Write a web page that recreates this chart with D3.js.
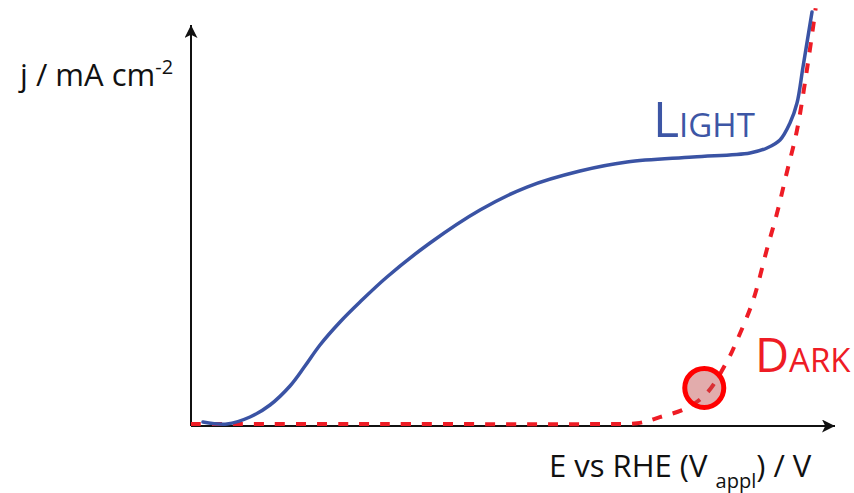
<!DOCTYPE html>
<html>
<head>
<meta charset="utf-8">
<script src="https://cdn.jsdelivr.net/npm/d3@7"></script>
<style>
  body { margin: 0; background: #fff; }
  svg { display: block; }
  text { font-family: 'Open Sans', sans-serif; }
</style>
</head>
<body>
<svg id="chart" width="854" height="493"></svg>
<script>
// potential (arbitrary units, 0-100) and current density (arbitrary, 0-100)
const lightE = [1.86, 5.59, 9.16, 12.27, 15.37, 17.70, 20.03, 23.14, 26.24, 30.43, 37.11, 44.88, 52.17, 60.40, 67.70, 77.95, 86.80, 89.44, 91.46, 93.01, 94.10, 95.03, 96.43]
const lightJ = [1.0, 0.5, 2.24, 5.24, 9.98, 14.96, 20.20, 25.94, 30.92, 37.16, 45.64, 53.87, 59.60, 63.59, 65.84, 67.08, 68.08, 69.33, 71.32, 75.56, 80.55, 89.53, 103.24]

const darkE = [0, 30, 63.5, 69.3, 72.8, 77.0, 80.1, 83.2, 84.8, 87.3, 89.4, 91.0, 92.5, 94.1, 95.7, 97.0]
const darkJ = [0.5, 0.5, 0.5, 0.7, 2.2, 4.5, 8.2, 16.0, 21.4, 31.4, 43.9, 53.1, 63.1, 73.8, 89.5, 104.2]

const onsetPoint = [79.7, 9.5]

const svg = d3.select('#chart')

const x = d3.scaleLinear().domain([0, 100]).range([191, 835])
const y = d3.scaleLinear().domain([0, 100]).range([426, 25])

const defs = svg.append('defs')
defs.append('marker')
  .attr('id', 'arrow')
  .attr('viewBox', '0 0 10 10')
  .attr('refX', 10)
  .attr('refY', 5)
  .attr('markerWidth', 16)
  .attr('markerHeight', 13)
  .attr('markerUnits', 'userSpaceOnUse')
  .attr('orient', 'auto')
  .append('path')
  .attr('d', 'M0,0 L10,5 L0,10 L2.5,5 Z')
  .attr('fill', '#111')

// axes
svg.append('line')
  .attr('x1', x(0)).attr('y1', y(0))
  .attr('x2', x(100)).attr('y2', y(0))
  .attr('stroke', '#111').attr('stroke-width', 2)
  .attr('marker-end', 'url(#arrow)')
svg.append('line')
  .attr('x1', x(0)).attr('y1', y(0))
  .attr('x2', x(0)).attr('y2', y(100))
  .attr('stroke', '#111').attr('stroke-width', 2)
  .attr('marker-end', 'url(#arrow)')

const line = d3.line()
  .x((d) => x(d[0]))
  .y((d) => y(d[1]))
  .curve(d3.curveCatmullRom.alpha(0.5))

svg.append('path')
  .datum(darkE.map((e, i) => [e, darkJ[i]]))
  .attr('d', line)
  .attr('fill', 'none')
  .attr('stroke', '#ee1c25')
  .attr('stroke-width', 4)
  .attr('stroke-dasharray', '10 11')

svg.append('path')
  .datum(lightE.map((e, i) => [e, lightJ[i]]))
  .attr('d', line)
  .attr('fill', 'none')
  .attr('stroke', '#3a53a4')
  .attr('stroke-width', 3.5)
  .attr('stroke-linecap', 'round')

svg.append('circle')
  .attr('cx', x(onsetPoint[0]))
  .attr('cy', y(onsetPoint[1]))
  .attr('r', 19.5)
  .attr('fill', 'rgba(190, 70, 70, 0.45)')
  .attr('stroke', '#ff0000')
  .attr('stroke-width', 5)

// labels
const yLab = svg.append('text')
  .attr('x', 20).attr('y', 86)
  .attr('font-size', 31).attr('fill', '#111')
yLab.append('tspan').text('j / mA cm')
yLab.append('tspan').attr('font-size', 20).attr('dy', -12).text('-2')

const xLab = svg.append('text')
  .attr('x', 549).attr('y', 477)
  .attr('font-size', 31).attr('fill', '#111')
xLab.append('tspan').text('E vs RHE (V ')
xLab.append('tspan').attr('font-size', 20).attr('dy', 11).text('appl')
xLab.append('tspan').attr('dy', -11).text(') / V')

const light = svg.append('text')
  .attr('x', 653).attr('y', 137)
  .attr('fill', '#3d56a5')
light.append('tspan').attr('font-size', 50).text('L')
light.append('tspan').attr('font-size', 33).text('IGHT')

const dark = svg.append('text')
  .attr('x', 755).attr('y', 372)
  .attr('fill', '#ee1c25')
dark.append('tspan').attr('font-size', 47).text('D')
dark.append('tspan').attr('font-size', 33).text('ARK')
</script>
</body>
</html>
